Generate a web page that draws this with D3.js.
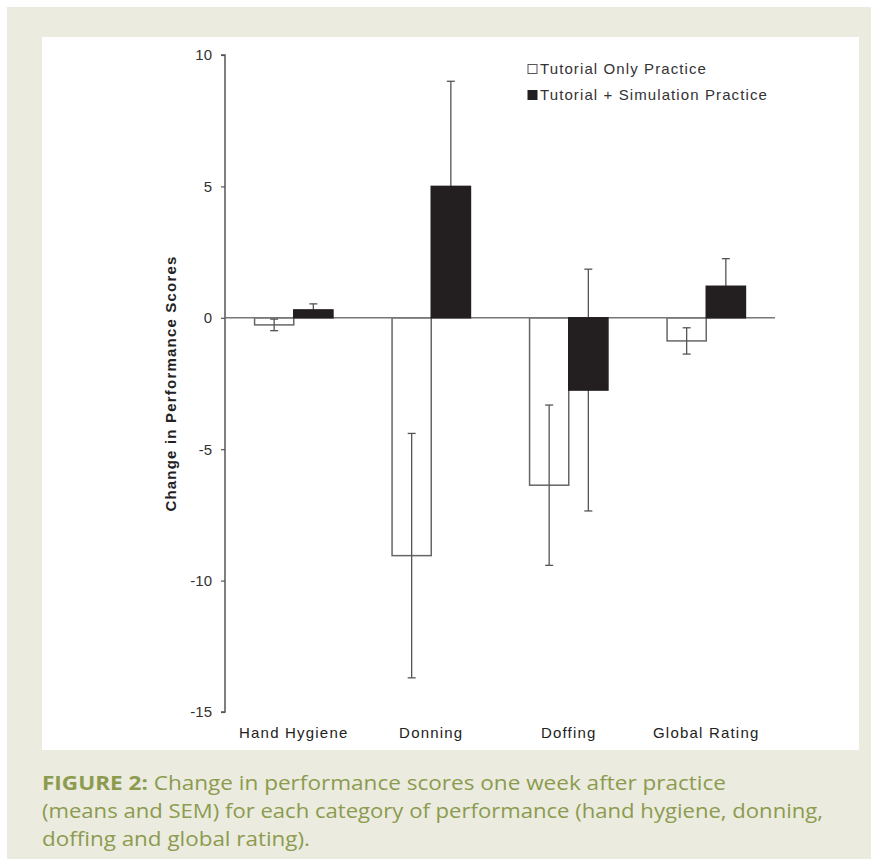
<!DOCTYPE html>
<html><head><meta charset="utf-8">
<script src="https://cdn.jsdelivr.net/npm/d3@7"></script>
<style>
body{margin:0;background:#fff;}
svg{display:block;}
</style></head>
<body>
<svg id="c" width="877" height="860"></svg>
<script>
const categories = ["Hand Hygiene", "Donning", "Doffing", "Global Rating"];
const seriesNames = ["Tutorial Only Practice", "Tutorial + Simulation Practice"];
const tutorialOnly = [-0.27, -9.05, -6.37, -0.88];
const tutorialOnlySEM = [0.22, 4.65, 3.05, 0.5];
const tutorialSim = [0.3, 5.0, -2.75, 1.2];
const tutorialSimSEM = [0.23, 4.0, 4.6, 1.05];
const yTicks = [10, 5, 0, -5, -10, -15];
const yTickLabels = ["10", "5", "0", "-5", "-10", "-15"];
const captionLines = [
  ["FIGURE 2:", " Change in performance scores one week after practice"],
  ["", "(means and SEM) for each category of performance (hand hygiene, donning,"],
  ["", "doffing and global rating)."]
];
const captionWidths = [684, 781, 268];

const svg = d3.select("#c");
svg.append("rect").attr("x",0).attr("y",0).attr("width",877).attr("height",860).attr("fill","#fff");
svg.append("rect").attr("x",7).attr("y",7).attr("width",864).attr("height",852).attr("fill","#ebebe0");
svg.append("rect").attr("x",42).attr("y",37).attr("width",817).attr("height",713).attr("fill","#fff");

const x0 = d3.scaleBand().domain(categories).range([225,775]).paddingInner(0.43).paddingOuter(0.215);
const x1 = d3.scaleBand().domain([0,1]).range([0,x0.bandwidth()]);
const y = d3.scaleLinear().domain([-15,10]).range([712,55]);

const fontA = "'Liberation Sans', Arial, sans-serif";
const axisColor = "#555";
const ls = "1.2px";

// y axis
const yAxis = d3.axisLeft(y).tickValues(yTicks).tickSize(4).tickPadding(9)
  .tickFormat((d,i)=>yTickLabels[i]);
const ga = svg.append("g").attr("transform","translate(225,0)").call(yAxis);
ga.select(".domain").attr("stroke",axisColor).attr("stroke-width",1.5).attr("d","M-4,"+y(10)+"H0V"+y(-15)+"H-4");
ga.selectAll(".tick line").attr("stroke",axisColor).attr("stroke-width",1.2);
ga.selectAll(".tick text").attr("fill","#333").style("font-family",fontA).style("font-size","15px");

// y label
svg.append("text").attr("transform","translate(176,"+y(-2.5)+") rotate(-90)")
  .attr("text-anchor","middle").attr("fill","#222")
  .style("font-family",fontA).style("font-size","15px").style("font-weight","bold")
  .style("letter-spacing",ls)
  .text("Change in Performance Scores");

const data = categories.map((c,i)=>[
  {cat:c, s:0, v:tutorialOnly[i], e:tutorialOnlySEM[i]},
  {cat:c, s:1, v:tutorialSim[i], e:tutorialSimSEM[i]}
]).flat();

function drawBars(sel, arr){
  sel.selectAll("rect").data(arr).join("rect")
    .attr("x",d=>x0(d.cat)+x1(d.s))
    .attr("width",x1.bandwidth())
    .attr("y",d=>y(Math.max(0,d.v)))
    .attr("height",d=>Math.abs(y(d.v)-y(0)))
    .attr("fill",d=>d.s===0?"#fff":"#231f20")
    .attr("stroke",d=>d.s===0?"#666":"#231f20")
    .attr("stroke-width",1.5);
}
drawBars(svg.append("g"), data.filter(d=>d.s===0));

// zero line
svg.append("line").attr("x1",225).attr("x2",775).attr("y1",y(0)).attr("y2",y(0))
  .attr("stroke","#777").attr("stroke-width",1.5);

// error bars
const eb = svg.append("g").attr("stroke","#555").attr("stroke-width",1.3);
data.forEach(d=>{
  const cx = x0(d.cat)+x1(d.s)+x1.bandwidth()/2;
  eb.append("line").attr("x1",cx).attr("x2",cx).attr("y1",y(d.v+d.e)).attr("y2",y(d.v-d.e));
  [d.v+d.e, d.v-d.e].forEach(t=>{
    eb.append("line").attr("x1",cx-4).attr("x2",cx+4).attr("y1",y(t)).attr("y2",y(t));
  });
});

drawBars(svg.append("g"), data.filter(d=>d.s===1));

// category labels
svg.append("g").selectAll("text").data(categories).join("text")
  .attr("x",d=>x0(d)+x0.bandwidth()/2).attr("y",738)
  .attr("text-anchor","middle").attr("fill","#222")
  .style("font-family",fontA).style("font-size","15px").style("letter-spacing",ls)
  .text(d=>d);

// legend
const lg = svg.append("g");
seriesNames.forEach((n,i)=>{
  const yy = 69 + i*26;
  lg.append("rect").attr("x",528).attr("y",yy-4.5).attr("width",9).attr("height",9)
    .attr("fill",i===0?"#fff":"#231f20").attr("stroke",i===0?"#555":"#231f20").attr("stroke-width",1);
  lg.append("text").attr("x",540).attr("y",yy+5).attr("fill","#333")
    .style("font-family",fontA).style("font-size","15px").style("letter-spacing","1.1px").text(n);
});

// caption
const cap = svg.append("g");
captionLines.forEach((ln,i)=>{
  const t = cap.append("text").attr("x",42).attr("y",790+i*27.8)
    .attr("fill","#8c9b4e").style("font-family","'Open Sans', 'Noto Sans', sans-serif")
    .style("font-size","20px")
    .attr("textLength",captionWidths[i]).attr("lengthAdjust","spacingAndGlyphs");
  if(ln[0]) t.append("tspan").style("font-weight","bold").text(ln[0]);
  t.append("tspan").text(ln[1]);
});
</script>
</body></html>
